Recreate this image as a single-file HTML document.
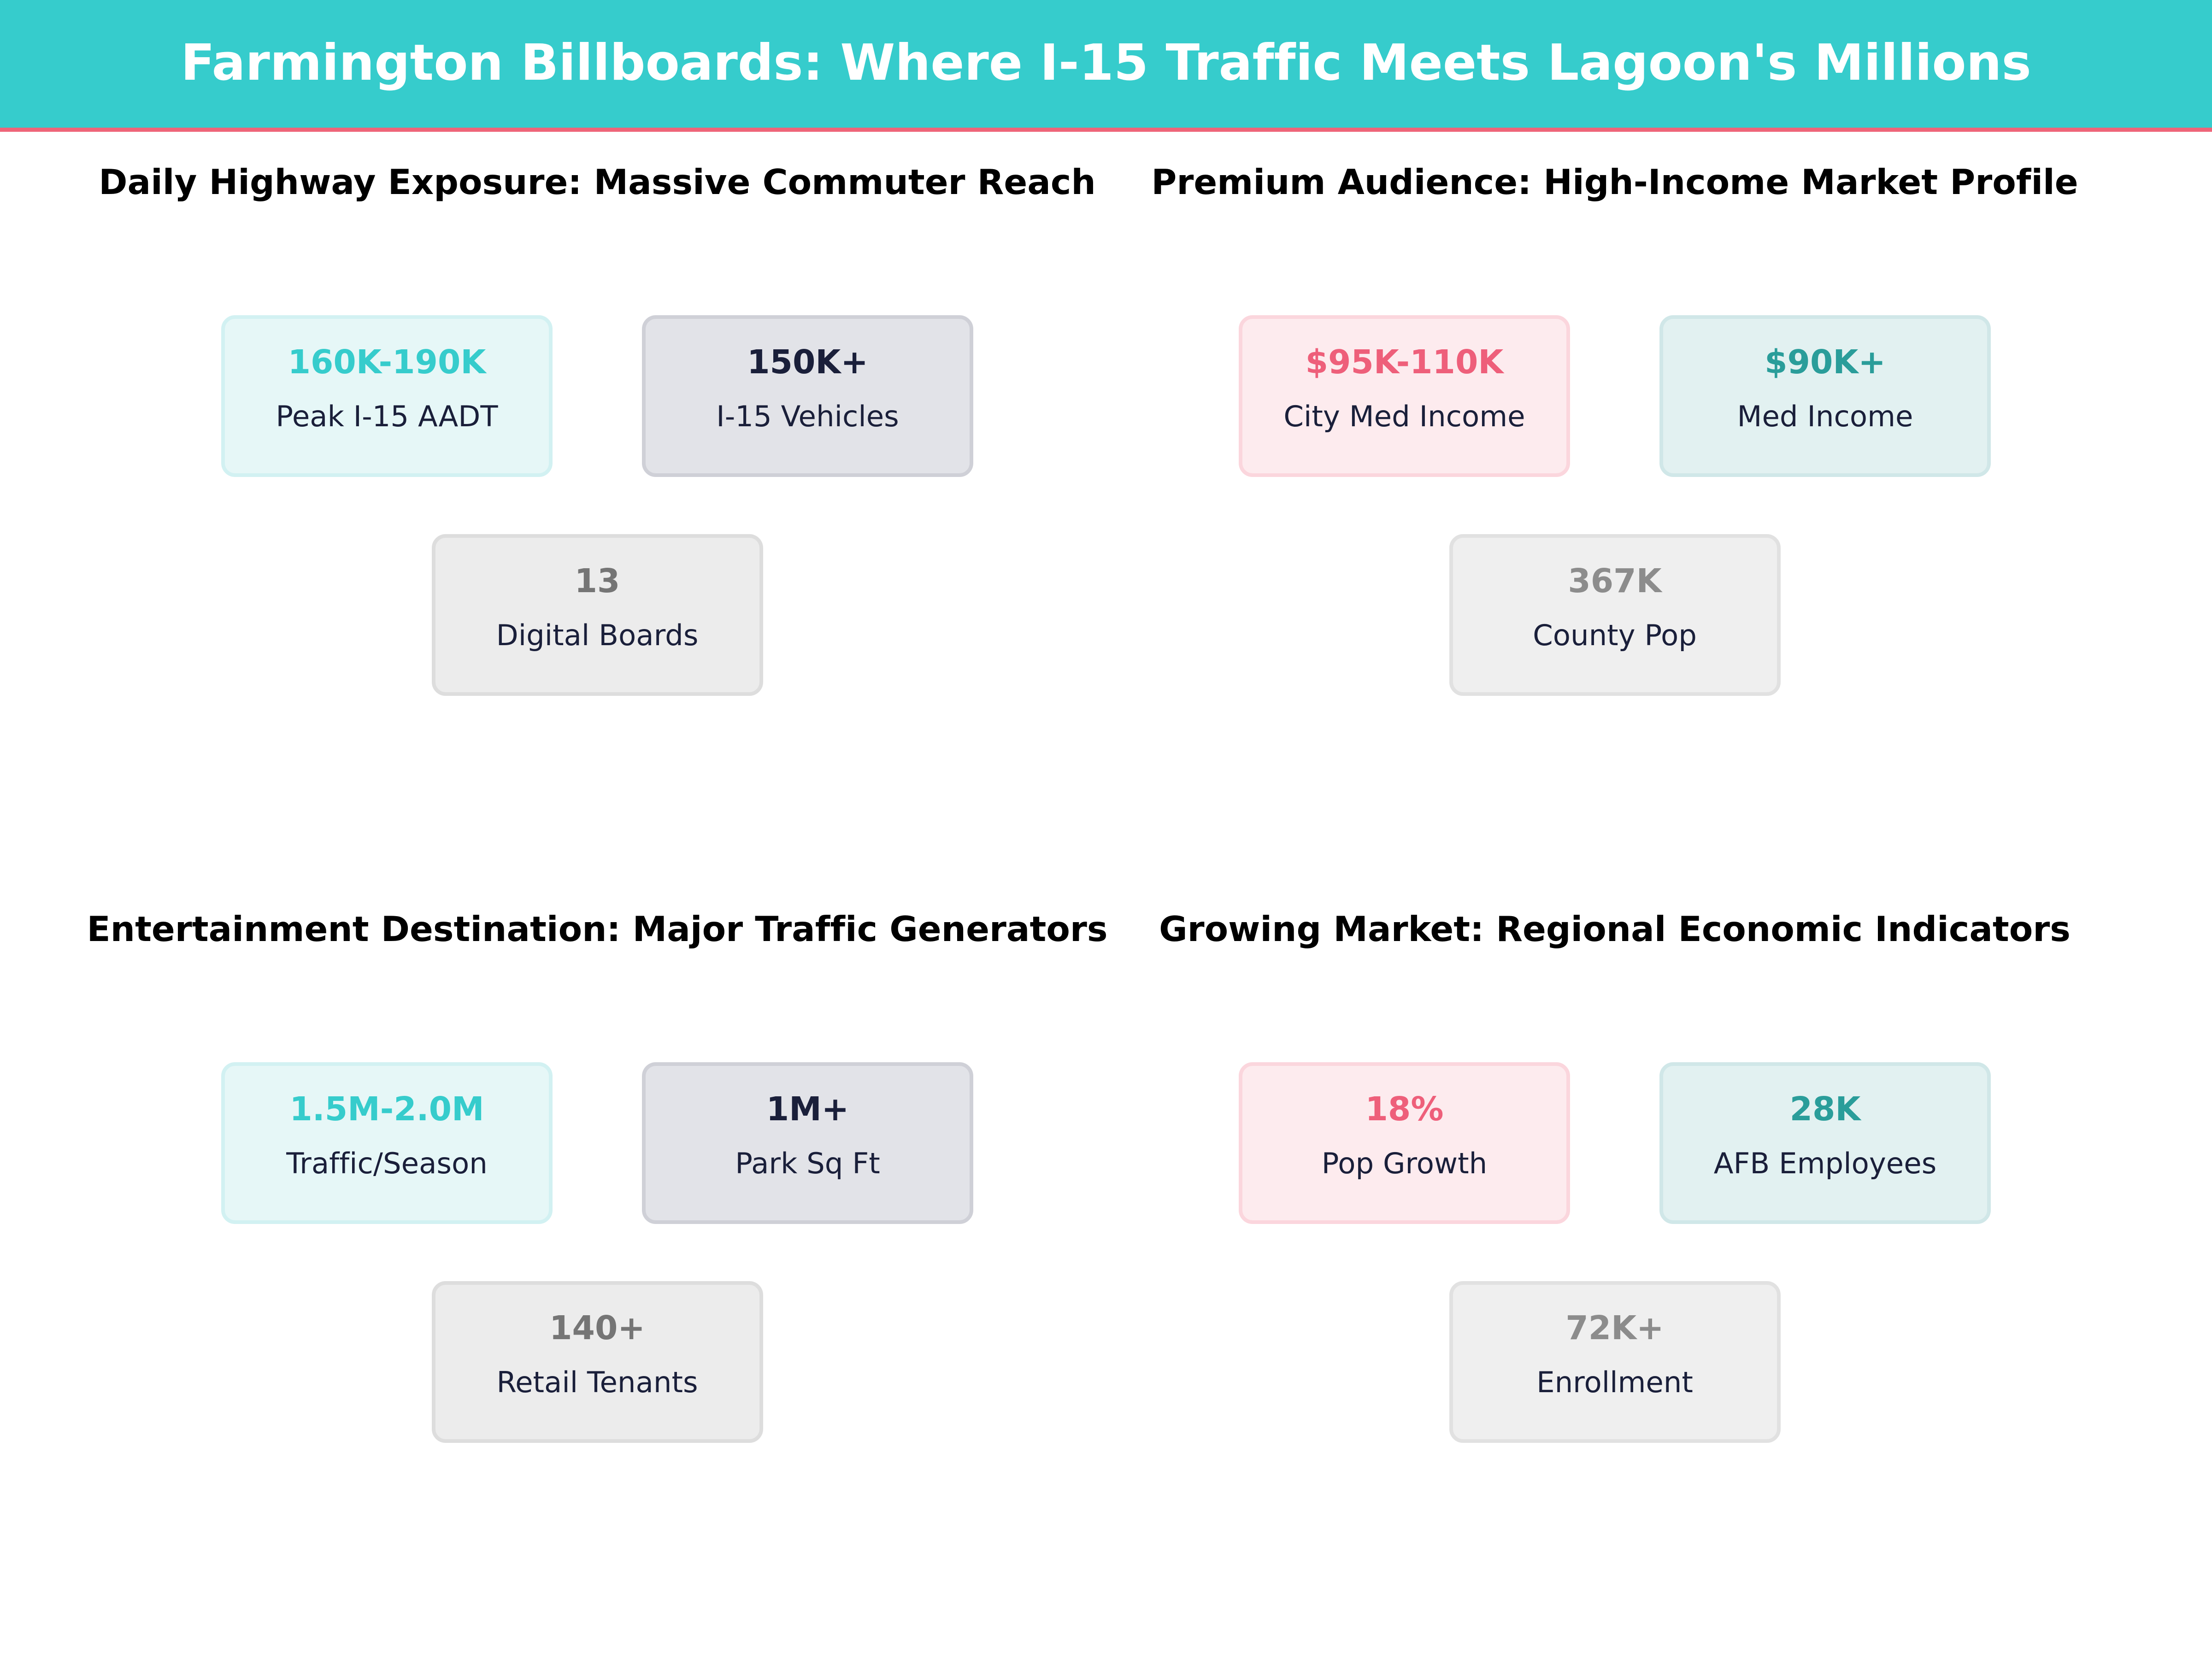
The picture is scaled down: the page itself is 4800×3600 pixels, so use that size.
<!DOCTYPE html>
<html>
<head>
<meta charset="utf-8">
<style>
  html, body { margin: 0; padding: 0; background: #ffffff; }
  body { width: 4800px; height: 3600px; overflow: hidden; }
  svg { display: block; }
  text { font-family: "DejaVu Sans", "Liberation Sans", sans-serif; font-variant-ligatures: none; font-feature-settings: "liga" 0, "clig" 0; }
  .title { font-size: 108px; font-weight: bold; fill: #ffffff; }
  .sub { font-size: 75px; font-weight: bold; fill: #000000; }
  .val { font-size: 71px; font-weight: bold; }
  .lab { font-size: 62.5px; fill: #1a1f3a; }
</style>
</head>
<body>
<svg width="4800" height="3600" viewBox="0 0 4800 3600" xmlns="http://www.w3.org/2000/svg">
  <rect x="0" y="0" width="4800" height="3600" fill="#ffffff"/>
  <!-- Header -->
  <rect x="0" y="0" width="4800" height="282" fill="#36cccc"/>
  <rect x="0" y="277" width="4800" height="9" fill="#ee6579"/>
  <text class="title" x="2400" y="173" text-anchor="middle">Farmington Billboards: Where I-15 Traffic Meets Lagoon's Millions</text>

  <!-- Subtitles -->
  <text class="sub" x="1296" y="421" text-anchor="middle">Daily Highway Exposure: Massive Commuter Reach</text>
  <text class="sub" x="3504" y="421" text-anchor="middle">Premium Audience: High-Income Market Profile</text>
  <text class="sub" x="1296" y="2042" text-anchor="middle">Entertainment Destination: Major Traffic Generators</text>
  <text class="sub" x="3504" y="2042" text-anchor="middle">Growing Market: Regional Economic Indicators</text>

  <!-- ===== Panel 1 (top-left) ===== -->
  <rect x="484" y="688" width="711" height="343" rx="26" ry="26" fill="#e6f7f7" stroke="#d2f1f2" stroke-width="8"/>
  <text class="val" x="839.5" y="810" text-anchor="middle" fill="#36cccc">160K-190K</text>
  <text class="lab" x="839.5" y="925" text-anchor="middle">Peak I-15 AADT</text>

  <rect x="1397" y="688" width="711" height="343" rx="26" ry="26" fill="#e2e3e8" stroke="#cfd0d7" stroke-width="8"/>
  <text class="val" x="1752.5" y="810" text-anchor="middle" fill="#1a1f3a">150K+</text>
  <text class="lab" x="1752.5" y="925" text-anchor="middle">I-15 Vehicles</text>

  <rect x="941" y="1163" width="711" height="343" rx="26" ry="26" fill="#ececec" stroke="#dddddd" stroke-width="8"/>
  <text class="val" x="1296" y="1285" text-anchor="middle" fill="#757575">13</text>
  <text class="lab" x="1296" y="1400" text-anchor="middle">Digital Boards</text>

  <!-- ===== Panel 2 (top-right) ===== -->
  <rect x="2692" y="688" width="711" height="343" rx="26" ry="26" fill="#fdebee" stroke="#fbd6dd" stroke-width="8"/>
  <text class="val" x="3047.5" y="810" text-anchor="middle" fill="#ee5f7a">$95K-110K</text>
  <text class="lab" x="3047.5" y="925" text-anchor="middle">City Med Income</text>

  <rect x="3605" y="688" width="711" height="343" rx="26" ry="26" fill="#e2f1f1" stroke="#d0e7e8" stroke-width="8"/>
  <text class="val" x="3960.5" y="810" text-anchor="middle" fill="#2a9d9a">$90K+</text>
  <text class="lab" x="3960.5" y="925" text-anchor="middle">Med Income</text>

  <rect x="3149" y="1163" width="711" height="343" rx="26" ry="26" fill="#efefef" stroke="#e1e1e1" stroke-width="8"/>
  <text class="val" x="3504" y="1285" text-anchor="middle" fill="#8c8c8c">367K</text>
  <text class="lab" x="3504" y="1400" text-anchor="middle">County Pop</text>

  <!-- ===== Panel 3 (bottom-left) ===== -->
  <rect x="484" y="2309" width="711" height="343" rx="26" ry="26" fill="#e6f7f7" stroke="#d2f1f2" stroke-width="8"/>
  <text class="val" x="839.5" y="2431" text-anchor="middle" fill="#36cccc">1.5M-2.0M</text>
  <text class="lab" x="839.5" y="2546" text-anchor="middle">Traffic/Season</text>

  <rect x="1397" y="2309" width="711" height="343" rx="26" ry="26" fill="#e2e3e8" stroke="#cfd0d7" stroke-width="8"/>
  <text class="val" x="1752.5" y="2431" text-anchor="middle" fill="#1a1f3a">1M+</text>
  <text class="lab" x="1752.5" y="2546" text-anchor="middle">Park Sq Ft</text>

  <rect x="941" y="2784" width="711" height="343" rx="26" ry="26" fill="#ececec" stroke="#dddddd" stroke-width="8"/>
  <text class="val" x="1296" y="2906" text-anchor="middle" fill="#757575">140+</text>
  <text class="lab" x="1296" y="3021" text-anchor="middle">Retail Tenants</text>

  <!-- ===== Panel 4 (bottom-right) ===== -->
  <rect x="2692" y="2309" width="711" height="343" rx="26" ry="26" fill="#fdebee" stroke="#fbd6dd" stroke-width="8"/>
  <text class="val" x="3047.5" y="2431" text-anchor="middle" fill="#ee5f7a">18%</text>
  <text class="lab" x="3047.5" y="2546" text-anchor="middle">Pop Growth</text>

  <rect x="3605" y="2309" width="711" height="343" rx="26" ry="26" fill="#e2f1f1" stroke="#d0e7e8" stroke-width="8"/>
  <text class="val" x="3960.5" y="2431" text-anchor="middle" fill="#2a9d9a">28K</text>
  <text class="lab" x="3960.5" y="2546" text-anchor="middle">AFB Employees</text>

  <rect x="3149" y="2784" width="711" height="343" rx="26" ry="26" fill="#efefef" stroke="#e1e1e1" stroke-width="8"/>
  <text class="val" x="3504" y="2906" text-anchor="middle" fill="#8c8c8c">72K+</text>
  <text class="lab" x="3504" y="3021" text-anchor="middle">Enrollment</text>
</svg>
</body>
</html>
